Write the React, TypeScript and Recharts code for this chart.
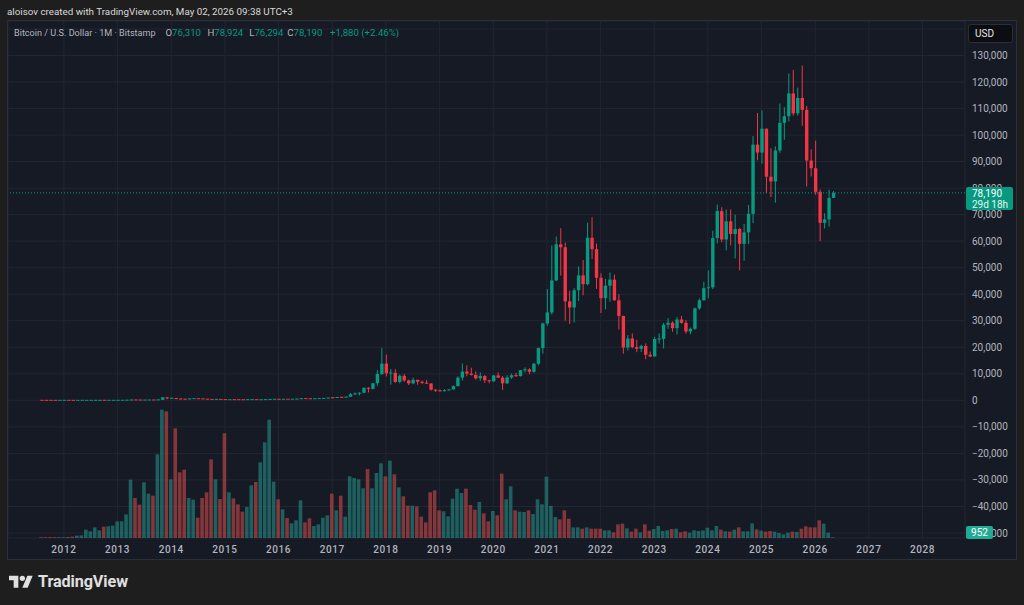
import React from 'react';
import { ComposedChart, Bar, XAxis, YAxis, CartesianGrid, ReferenceLine } from 'recharts';

// ---------- categories ----------
const YEARS = [2011, 2012, 2013, 2014, 2015, 2016, 2017, 2018, 2019, 2020, 2021, 2022, 2023, 2024, 2025, 2026, 2027, 2028];
const MONTHS = ['01', '02', '03', '04', '05', '06', '07', '08', '09', '10', '11', '12'];
const SLOT_COUNT = 214; // Jan 2011 .. Oct 2028 (empty space on both sides like the reference)
const FIRST_DATA_MONTH = '2011-08';
const YEAR_TICKS = ['2012-01', '2013-01', '2014-01', '2015-01', '2016-01', '2017-01', '2018-01', '2019-01', '2020-01', '2021-01', '2022-01', '2023-01', '2024-01', '2025-01', '2026-01', '2027-01', '2028-01'];
const PRICE_TICKS = [-50000, -40000, -30000, -20000, -10000, 0, 10000, 20000, 30000, 40000, 50000, 60000, 70000, 80000, 90000, 100000, 110000, 120000, 130000, 140000];
const HIDDEN_PRICE_LABELS = [140000]; // covered by the currency box in the reference

// ---------- monthly OHLC (Aug 2011 .. May 2026) ----------
const opens = [
  13.5, 8.2, 5.1, 3.2, 3.0,
  4.5, 5.5, 4.9, 4.86, 5.0, 5.15, 6.6, 9.3, 10.2, 12.4, 11.2, 12.6,
  13.5, 20.4, 33.3, 93, 139, 128, 97, 106, 135, 133, 204, 1130,
  732, 810, 550, 445, 440, 627, 640, 585, 480, 385, 338, 378,
  320, 218, 254, 244, 236, 230, 263, 284, 230, 236, 312, 378,
  430, 368, 437, 416, 448, 531, 673, 624, 575, 609, 700, 745,
  963, 961, 1190, 1080, 1350, 2300, 2480, 2870, 4730, 4340, 6450, 9950,
  13860, 10220, 10330, 6930, 9240, 7500, 6390, 7730, 7010, 6600, 6300, 4000,
  3700, 3430, 3810, 4100, 5320, 8550, 10820, 10080, 9580, 8300, 9150, 7550,
  7190, 9380, 8540, 6410, 8630, 9450, 9140, 11350, 11660, 10780, 13800, 19700,
  28990, 33110, 45200, 58800, 57700, 37300, 35000, 41500, 47100, 43800, 61300, 57000,
  46200, 38500, 43200, 45500, 37700, 31800, 19900, 23300, 20050, 19430, 20500, 17170,
  16540, 23130, 23150, 28480, 29250, 27220, 30480, 29230, 25940, 26970, 34650, 37720,
  42280, 42580, 61180, 71330, 60640, 67500, 62700, 64600, 59000, 63300, 70300, 96400,
  93400, 102400, 84300, 82500, 94200, 104600, 107100, 115700, 108200, 114000, 109500, 90400,
  87500, 78600, 66900, 68200, 76310,
];
const highs = [
  13.9, 8.2, 5.2, 3.6, 4.5,
  7.2, 6.3, 5.4, 5.3, 5.2, 6.7, 9.4, 15.4, 12.6, 12.5, 12.9, 13.8,
  20.4, 33.3, 95, 266, 140, 129, 110, 140, 140, 220, 1163, 1163,
  995, 840, 720, 550, 630, 680, 660, 600, 490, 415, 460, 380,
  320, 265, 300, 260, 247, 270, 316, 285, 245, 330, 500, 468,
  460, 445, 440, 470, 550, 780, 680, 625, 630, 720, 750, 975,
  1150, 1200, 1290, 1350, 2760, 3000, 2990, 4780, 4980, 6470, 11400, 19670,
  17250, 11780, 11700, 9760, 9970, 7780, 8500, 7750, 7410, 7680, 6540, 4230,
  4070, 4200, 4140, 5640, 9070, 13880, 13200, 12320, 10950, 10540, 9510, 7740,
  9580, 10500, 9190, 9470, 10080, 10390, 11440, 12470, 12080, 14100, 19900, 29300,
  41950, 58350, 61780, 64900, 59500, 41300, 42300, 50500, 52900, 67000, 69000, 59100,
  47900, 45800, 48200, 47400, 40000, 31900, 24600, 25200, 22800, 21000, 21500, 18400,
  23950, 25250, 29200, 31000, 29800, 31430, 31800, 30200, 27490, 35000, 38400, 44700,
  48970, 64000, 73800, 72800, 71960, 71950, 70000, 65000, 66500, 73600, 99600, 108300,
  109300, 102500, 95000, 95800, 111900, 110500, 123200, 124500, 117900, 126200, 111000, 94600,
  97900, 79500, 70500, 79400, 78924,
];
const lows = [
  7.1, 4.8, 2.0, 2.0, 2.8,
  4.4, 4.2, 4.5, 4.7, 4.9, 5.1, 6.6, 7.0, 10.0, 10.4, 10.4, 12.6,
  13.2, 19.1, 33, 50, 79, 90, 65, 100, 117, 103, 200, 400,
  730, 400, 450, 340, 420, 525, 570, 450, 360, 275, 320, 300,
  152, 210, 240, 210, 225, 220, 253, 160, 225, 236, 300, 350,
  350, 365, 390, 415, 440, 530, 470, 460, 570, 605, 680, 740,
  750, 920, 890, 1060, 1350, 2100, 1840, 2680, 2970, 4120, 5500, 9500,
  9000, 5870, 6600, 6430, 7000, 5760, 6070, 5880, 6100, 6200, 3650, 3150,
  3380, 3350, 3670, 4080, 5320, 7450, 9070, 9350, 7730, 7300, 6520, 6430,
  6870, 8450, 3850, 6150, 8110, 8830, 8980, 10520, 9880, 10380, 13200, 17600,
  28130, 32300, 44950, 47000, 30000, 28800, 29300, 37400, 39600, 43300, 53300, 42000,
  32900, 34300, 37200, 37600, 26700, 17600, 18800, 19600, 18150, 18200, 15500, 16300,
  16500, 21400, 19570, 26950, 25800, 24800, 28860, 25170, 24900, 26540, 34100, 37600,
  38500, 41900, 59200, 59600, 56550, 58400, 53500, 49000, 52600, 58900, 66800, 90500,
  89200, 78200, 76600, 74500, 93300, 98200, 105100, 107300, 107300, 103500, 80600, 84400,
  77500, 60000, 64800, 65500, 76294,
];
const closes = [
  8.2, 5.1, 3.2, 3.0, 4.5,
  5.5, 4.9, 4.86, 5.0, 5.15, 6.6, 9.3, 10.2, 12.4, 11.2, 12.6, 13.5,
  20.4, 33.3, 93, 139, 128, 97, 106, 135, 133, 204, 1130, 732,
  810, 550, 445, 440, 627, 640, 585, 480, 385, 338, 378, 320,
  218, 254, 244, 236, 230, 263, 284, 230, 236, 312, 378, 430,
  368, 437, 416, 448, 531, 673, 624, 575, 609, 700, 745, 963,
  961, 1190, 1080, 1350, 2300, 2480, 2870, 4730, 4340, 6450, 9950, 13860,
  10220, 10330, 6930, 9240, 7500, 6390, 7730, 7010, 6600, 6300, 4000, 3700,
  3430, 3810, 4100, 5320, 8550, 10820, 10080, 9580, 8300, 9150, 7550, 7190,
  9380, 8540, 6410, 8630, 9450, 9140, 11350, 11660, 10780, 13800, 19700, 28990,
  33110, 45200, 58800, 57700, 37300, 35000, 41500, 47100, 43800, 61300, 57000, 46200,
  38500, 43200, 45500, 37700, 31800, 19900, 23300, 20050, 19430, 20500, 17170, 16540,
  23130, 23150, 28480, 29250, 27220, 30480, 29230, 25940, 26970, 34650, 37720, 42280,
  42580, 61180, 71330, 60640, 67500, 62700, 64600, 59000, 63300, 70300, 96400, 93400,
  102400, 84300, 82500, 94200, 104600, 107100, 115700, 108200, 114000, 109500, 90400, 87500,
  78600, 66900, 68200, 76310, 78190,
];
// monthly volume, thousand BTC
const volumes = [
  8, 8, 8, 8, 8,
  8, 12, 16, 28, 32, 100, 80, 128, 92, 136, 140, 148,
  200, 200, 284, 700, 480, 400, 668, 532, 508, 1004, 1540, 1520,
  704, 1316, 788, 820, 480, 460, 244, 480, 548, 944, 704, 468,
  1256, 548, 476, 404, 316, 372, 632, 672, 908, 1148, 1420, 676,
  464, 344, 240, 176, 212, 452, 188, 236, 144, 164, 244, 272,
  532, 332, 508, 256, 740, 720, 704, 596, 828, 596, 780, 896,
  740, 928, 764, 608, 500, 388, 388, 380, 256, 188, 548, 572,
  332, 320, 260, 472, 592, 540, 592, 396, 340, 432, 296, 200,
  324, 272, 772, 464, 620, 332, 316, 312, 332, 288, 464, 404,
  736, 384, 252, 224, 332, 232, 128, 128, 112, 128, 112, 112,
  112, 92, 92, 68, 164, 172, 116, 76, 112, 68, 164, 88,
  108, 144, 84, 92, 108, 112, 68, 80, 64, 92, 84, 92,
  124, 92, 144, 100, 80, 76, 100, 128, 80, 80, 176, 104,
  88, 76, 84, 76, 60, 44, 64, 76, 72, 112, 140, 128,
  128, 212, 172, 64, 0.952,
];

// ---------- style ----------
const GREEN = '#089981';
const RED = '#f23645';
const VGREEN = '#26a69a';
const VRED = '#ef5350';
const BG = '#161a25';
const GRID = '#222633';
const TEXT = '#b2b5be';
const FONT = 'Roboto, "Noto Sans", sans-serif';

const CHART_LEFT = 8;
const CHART_TOP = 21;
const CHART_W = 1008;
const CHART_H = 538;
const AXIS_W = 51;
const XAXIS_H = 21;
const PLOT_H = CHART_H - XAXIS_H;
const PRICE_DOMAIN: [number, number] = [-51900, 143000];
const VOL_DOMAIN: [number, number] = [0, 6204];

const slots = YEARS.flatMap((y) => MONTHS.map((m) => `${y}-${m}`)).slice(0, SLOT_COUNT);
const firstIdx = slots.indexOf(FIRST_DATA_MONTH);

const rows = slots.map((m, s) => {
  const d = s - firstIdx;
  if (d < 0 || d >= closes.length) return { m };
  return {
    m,
    o: opens[d],
    h: highs[d],
    l: lows[d],
    c: closes[d],
    range: [lows[d], highs[d]],
    v: volumes[d],
  };
});

const last = closes.length - 1;
const lastClose = closes[last];
const prevClose = closes[last - 1];
const change = lastClose - prevClose;
const changePct = (change / prevClose) * 100;

const fmt = (v: number) => Math.round(v).toLocaleString('en-US');
const fmtAxis = (v: number) =>
  HIDDEN_PRICE_LABELS.includes(v) ? '' : v < 0 ? '\u2212' + fmt(Math.abs(v)) : fmt(v);
const priceToPageY = (p: number) =>
  CHART_TOP + (PLOT_H * (PRICE_DOMAIN[1] - p)) / (PRICE_DOMAIN[1] - PRICE_DOMAIN[0]);

const Candle = (props: any) => {
  const { x, y, width, height, payload } = props;
  if (!payload || payload.o == null || x == null || y == null) return null;
  const { o, h, l, c } = payload;
  const top = Math.min(y, y + height);
  const bot = Math.max(y, y + height);
  const span = h - l;
  const py = (v: number) => (span > 0 ? top + ((h - v) / span) * (bot - top) : top);
  const color = c >= o ? GREEN : RED;
  let bTop = py(Math.max(o, c));
  let bBot = py(Math.min(o, c));
  if (bBot - bTop < 1) {
    const mid = (bTop + bBot) / 2;
    bTop = mid - 0.5;
    bBot = mid + 0.5;
  }
  const cx = x + width / 2;
  return (
    <g>
      <line x1={cx} x2={cx} y1={top} y2={bot} stroke={color} strokeWidth={1} />
      <rect x={x} y={bTop} width={width} height={bBot - bTop} fill={color} />
    </g>
  );
};

const VolBar = (props: any) => {
  const { x, y, width, height, payload } = props;
  if (!payload || payload.v == null || x == null) return null;
  const hh = Math.max(Math.abs(height), 0.8);
  const base = Math.max(y, y + height);
  return (
    <rect
      x={x}
      y={base - hh}
      width={width}
      height={hh}
      fill={payload.c >= payload.o ? VGREEN : VRED}
      fillOpacity={0.5}
    />
  );
};

const abs = (s: React.CSSProperties): React.CSSProperties => ({ position: 'absolute', whiteSpace: 'nowrap', ...s });

export default function App() {
  const tagTop = priceToPageY(lastClose) - 6;
  return (
    <div
      style={{
        position: 'absolute',
        left: 0,
        top: 0,
        width: 1024,
        height: 605,
        background: '#1e1e1e',
        fontFamily: FONT,
        overflow: 'hidden',
      }}
    >
      {/* header */}
      <div style={abs({ left: 7, top: 5, fontSize: 9.8, color: '#d9d9d9', lineHeight: '14px' })}>
        aloisov created with TradingView.com, May 02, 2026 09:38 UTC+3
      </div>

      {/* chart panel */}
      <div
        style={{
          position: 'absolute',
          left: 7,
          top: 20,
          width: 1010,
          height: 540,
          background: BG,
          border: '1px solid #2a2e39',
          boxSizing: 'border-box',
        }}
      />

      <div style={{ position: 'absolute', left: CHART_LEFT, top: CHART_TOP }}>
        <ComposedChart
          width={CHART_W}
          height={CHART_H}
          data={rows}
          margin={{ top: 0, right: 0, bottom: 0, left: 0 }}
          barCategoryGap={0}
        >
          <CartesianGrid xAxisId="x" yAxisId="price" stroke={GRID} strokeWidth={1} />
          <XAxis
            xAxisId="x"
            dataKey="m"
            ticks={YEAR_TICKS}
            interval={0}
            height={XAXIS_H}
            axisLine={false}
            tickLine={false}
            tickSize={0}
            tickMargin={8}
            tickFormatter={(v: string) => v.slice(0, 4)}
            tick={{ fill: TEXT, fontSize: 10, fontWeight: 500, fontFamily: FONT, letterSpacing: 0.6 }}
          />
          <XAxis xAxisId="xv" dataKey="m" hide />
          <YAxis
            yAxisId="price"
            orientation="right"
            width={AXIS_W}
            domain={PRICE_DOMAIN}
            allowDataOverflow
            ticks={PRICE_TICKS}
            interval={0}
            axisLine={false}
            tickLine={false}
            tickSize={0}
            tickMargin={7}
            tickFormatter={fmtAxis}
            tick={{ fill: TEXT, fontSize: 10, fontFamily: FONT, textAnchor: 'start' }}
          />
          <YAxis yAxisId="vol" hide domain={VOL_DOMAIN} allowDataOverflow />
          <Bar
            xAxisId="xv"
            yAxisId="vol"
            dataKey="v"
            barSize={3.6}
            shape={VolBar}
            isAnimationActive={false}
          />
          <Bar
            xAxisId="x"
            yAxisId="price"
            dataKey="range"
            barSize={3.4}
            shape={Candle}
            isAnimationActive={false}
          />
          <ReferenceLine
            xAxisId="x"
            yAxisId="price"
            y={lastClose}
            stroke={GREEN}
            strokeDasharray="1 2"
            strokeWidth={1}
          />
        </ComposedChart>
      </div>

      {/* legend line */}
      <div style={abs({ left: 14, top: 27, fontSize: 9.1, lineHeight: '12px', color: TEXT })}>
        Bitcoin / U.S. Dollar · 1M · Bitstamp
      </div>
      <div style={abs({ left: 165.5, top: 27, fontSize: 9.6, lineHeight: '12px', color: GREEN })}>
        <span style={{ color: TEXT }}>O</span>{fmt(opens[last])}
      </div>
      <div style={abs({ left: 207.5, top: 27, fontSize: 9.6, lineHeight: '12px', color: GREEN })}>
        <span style={{ color: TEXT }}>H</span>{fmt(highs[last])}
      </div>
      <div style={abs({ left: 249.3, top: 27, fontSize: 9.6, lineHeight: '12px', color: GREEN })}>
        <span style={{ color: TEXT }}>L</span>{fmt(lows[last])}
      </div>
      <div style={abs({ left: 287.3, top: 27, fontSize: 9.6, lineHeight: '12px', color: GREEN })}>
        <span style={{ color: TEXT }}>C</span>{fmt(closes[last])}
      </div>
      <div style={abs({ left: 330, top: 27, fontSize: 9.6, lineHeight: '12px', color: GREEN })}>
        {(change >= 0 ? '+' : '') + fmt(change)} ({(changePct >= 0 ? '+' : '') + changePct.toFixed(2)}%)
      </div>

      {/* USD box */}
      <div
        style={abs({
          left: 968,
          top: 24,
          width: 45,
          height: 19,
          background: '#0c0d10',
          border: '1px solid #2a2e39',
          borderRadius: 3,
          boxSizing: 'border-box',
          color: '#e6e6e6',
          fontSize: 10,
          lineHeight: '17px',
          paddingLeft: 6,
        })}
      >
        USD
      </div>

      {/* last price tag */}
      <div
        style={abs({
          left: 966,
          top: tagTop,
          width: 47,
          height: 23,
          background: GREEN,
          borderRadius: 2,
          color: '#ffffff',
          fontSize: 10,
          lineHeight: '11px',
          paddingLeft: 6,
          paddingTop: 1,
          boxSizing: 'border-box',
        })}
      >
        <div>{fmt(lastClose)}</div>
        <div style={{ color: '#e8f5f2' }}>29d 18h</div>
      </div>

      {/* volume tag */}
      <div
        style={abs({
          left: 966,
          top: 526,
          width: 27,
          height: 13,
          background: '#22ab94',
          borderRadius: 2,
          color: '#ffffff',
          fontSize: 10,
          lineHeight: '13px',
          textAlign: 'center',
        })}
      >
        {Math.round(volumes[last] * 1000)}
      </div>

      {/* TradingView logo */}
      <svg style={{ position: 'absolute', left: 9, top: 573.3 }} width={24} height={18.7} viewBox="0 0 36 28">
        <path d="M14 22H7V11H0V4h14v18zM28 22h-8l7.5-18h8L28 22z" fill="#e0e0e0" />
        <circle cx="20" cy="8" r="4" fill="#e0e0e0" />
      </svg>
      <div style={abs({ left: 38, top: 572, fontSize: 16.2, fontWeight: 700, color: '#e0e0e0', lineHeight: '20px', letterSpacing: -0.1 })}>
        TradingView
      </div>
    </div>
  );
}
